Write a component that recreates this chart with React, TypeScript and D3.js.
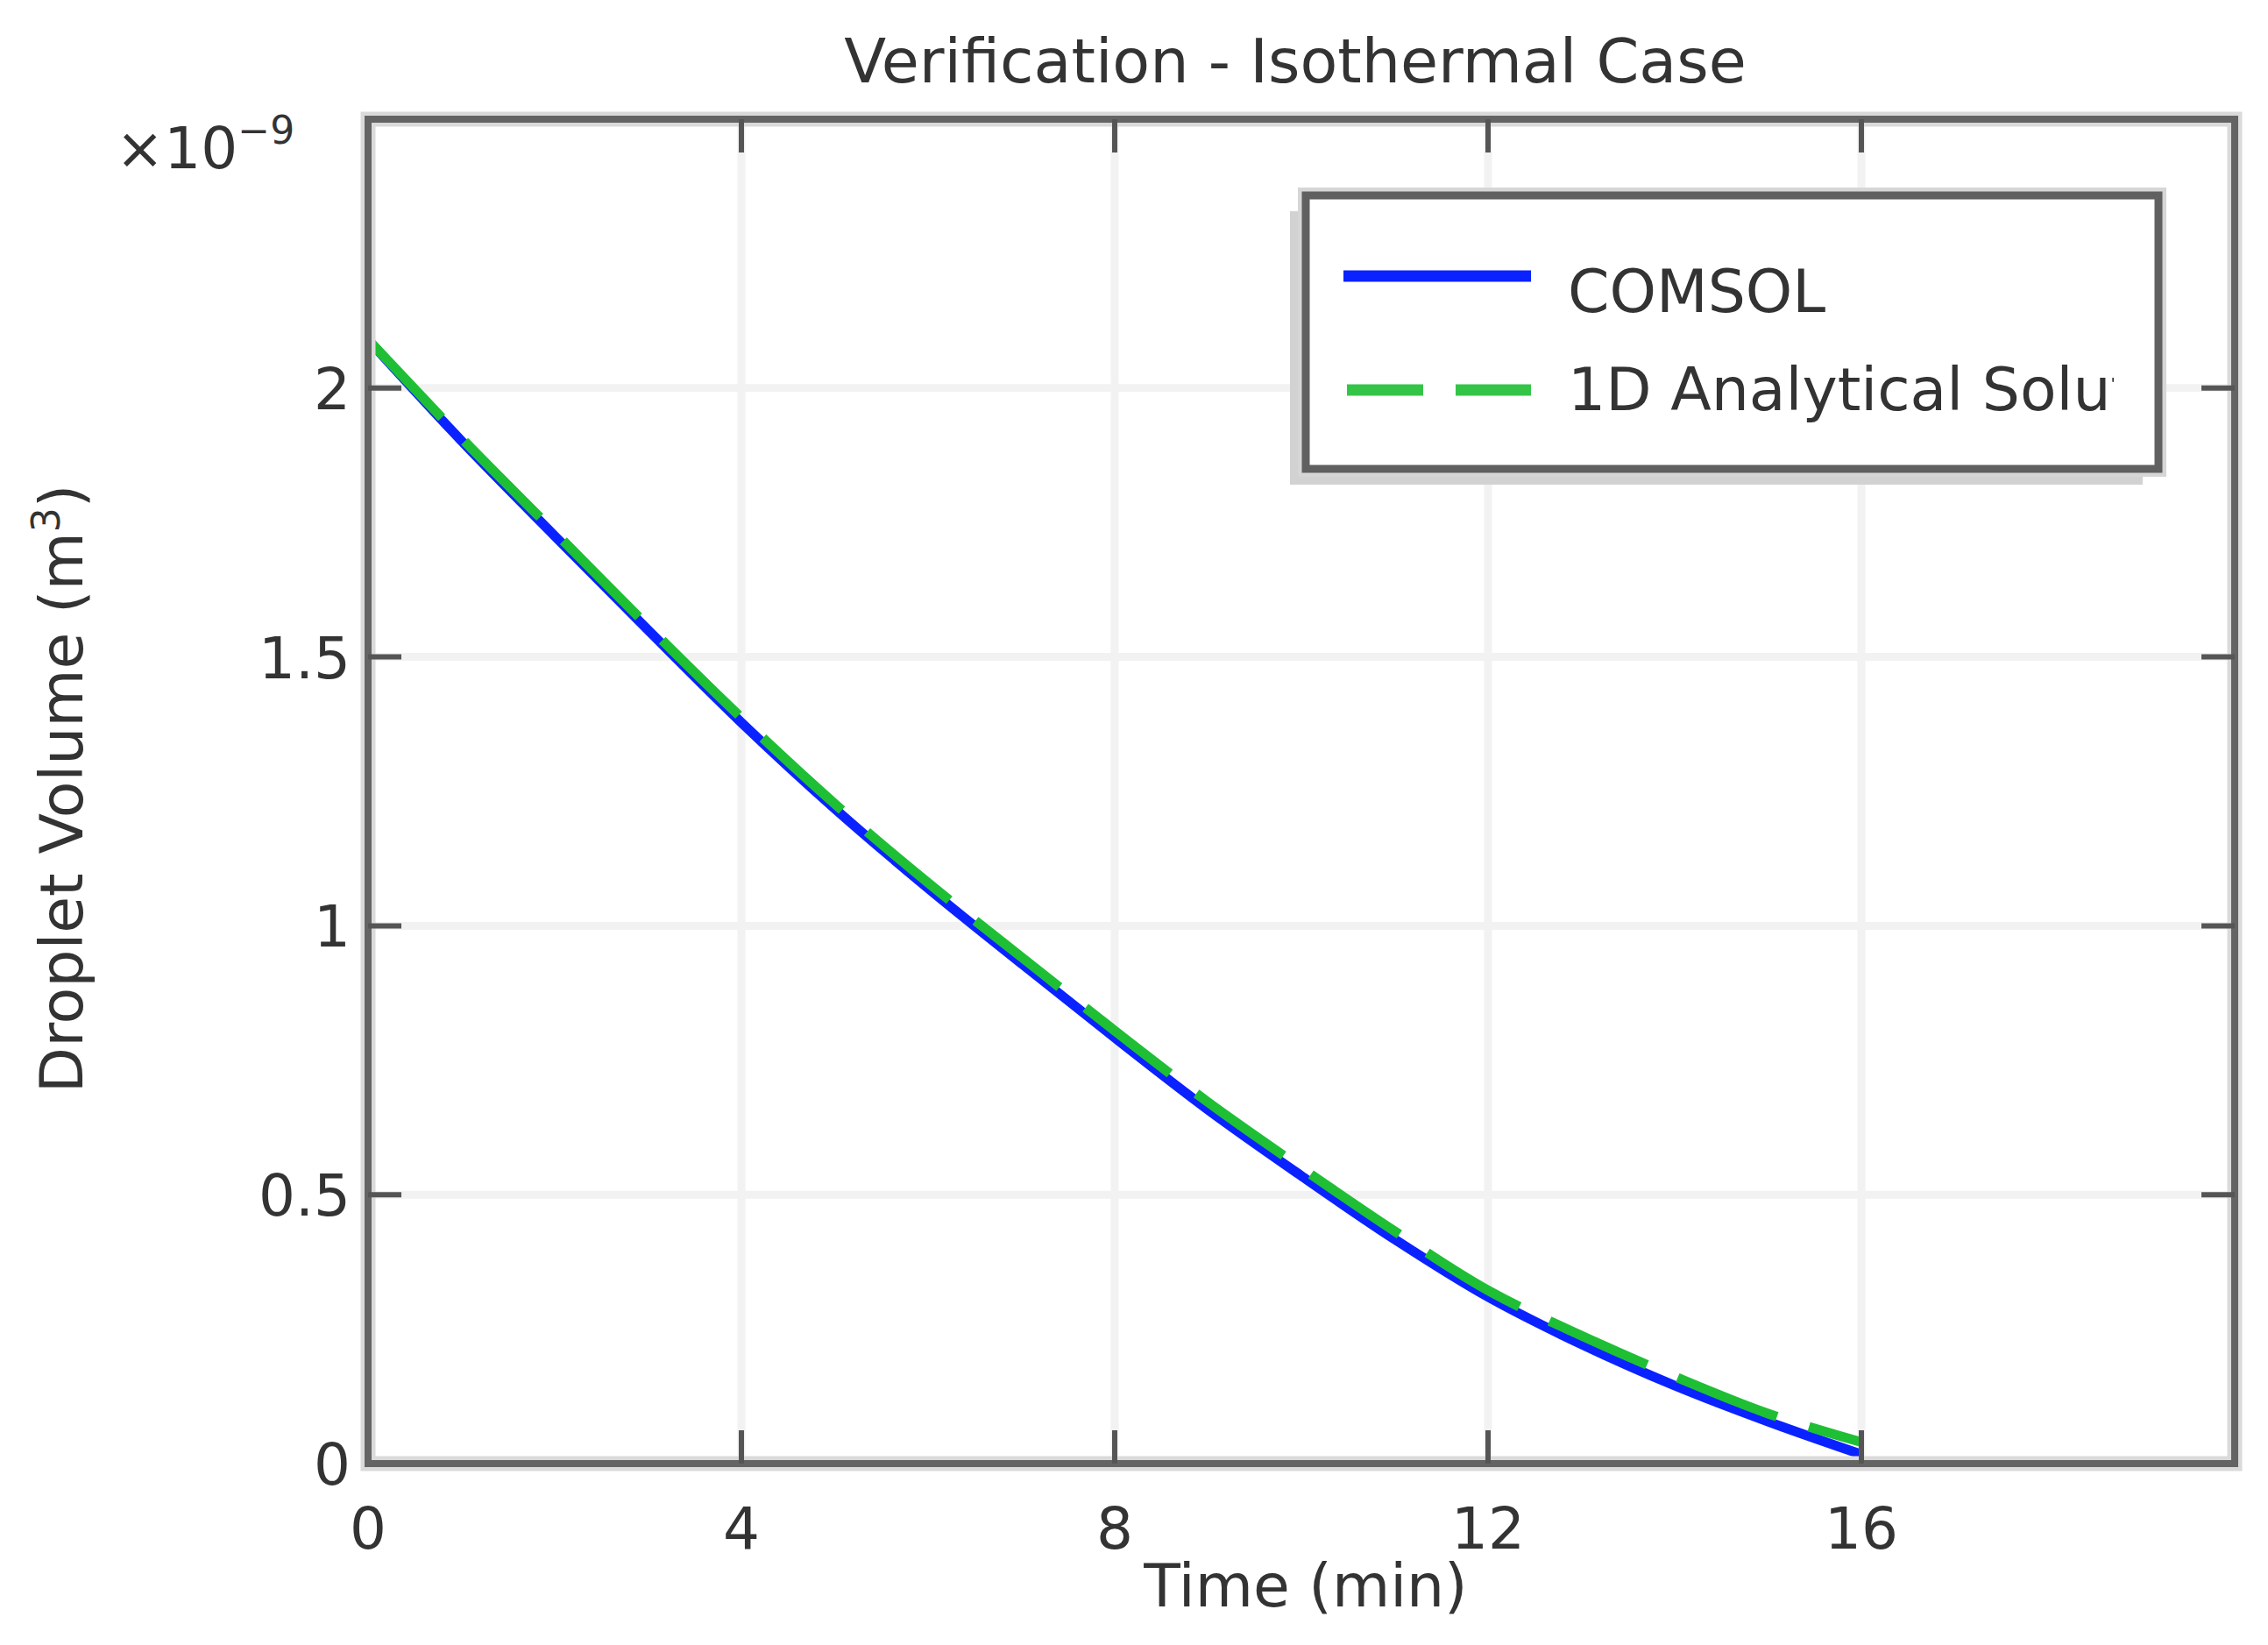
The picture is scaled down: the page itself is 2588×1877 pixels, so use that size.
import React from "react";
import * as d3 from "d3";

// ---- data ----
const timeMin = [0, 1, 2, 3, 4, 5, 6, 7, 8, 9, 10, 11, 12, 13, 14, 15, 16];
const comsolVolume = [2.09, 1.902, 1.725, 1.55, 1.378, 1.218, 1.07, 0.93, 0.792, 0.658, 0.535, 0.417, 0.31, 0.222, 0.145, 0.078, 0.017];
const analyticalVolume = [2.09, 1.907, 1.732, 1.557, 1.387, 1.227, 1.08, 0.942, 0.805, 0.672, 0.55, 0.432, 0.322, 0.238, 0.162, 0.093, 0.04];

const xTickValues = [0, 4, 8, 12, 16];
const yTickValues = [0, 0.5, 1, 1.5, 2];
const yTickLabels = ["0", "0.5", "1", "1.5", "2"];
const xDomain = [0, 20];
const yDomain = [0, 2.5];

const seriesNames = ["COMSOL", "1D Analytical Solution"];
const seriesColors = ["#0a22ff", "#1fbf35"];

const titleText = "Verification - Isothermal Case";
const xLabelText = "Time (min)";
const yLabelText = "Droplet Volume (m";

export default function App() {
  const W = 2588;
  const H = 1877;
  const left = 420, right = 2550, top = 136, bottom = 1670;
  const x = d3.scaleLinear().domain(xDomain).range([left, right]);
  const y = d3.scaleLinear().domain(yDomain).range([bottom, top]);

  const comsolPts = timeMin.map((t, i) => [t, comsolVolume[i]] as [number, number]);
  const anaPts = timeMin.map((t, i) => [t, analyticalVolume[i]] as [number, number]);
  const line = d3
    .line<[number, number]>()
    .x((d) => x(d[0]))
    .y((d) => y(d[1]))
    .curve(d3.curveCatmullRom.alpha(0.5));

  const font = "'DejaVu Sans', sans-serif";
  const textColor = "#333";
  const tickLen = 38;
  const gridX = xTickValues.filter((v) => v > xDomain[0] && v < xDomain[1]);
  const gridY = yTickValues.filter((v) => v > yDomain[0] && v < yDomain[1]);

  // legend geometry
  const lg = { x0: 1490, y0: 223, x1: 2463, y1: 535 };
  const legRows = [315, 445];

  return (
    <svg
      width={W}
      height={H}
      style={{ position: "absolute", left: 0, top: 0, background: "#fff" }}
      xmlns="http://www.w3.org/2000/svg"
    >
      <defs>
        <clipPath id="plotClip">
          <rect x={left} y={top - 10} width={right - left} height={bottom - top + 10} />
        </clipPath>
        <clipPath id="legClip">
          <rect x={lg.x0} y={lg.y0} width={2412 - lg.x0} height={lg.y1 - lg.y0} />
        </clipPath>
      </defs>
      <rect x={0} y={0} width={W} height={H} fill="#fff" />

      {/* grid */}
      <g stroke="#f2f2f2" strokeWidth={9}>
        {gridX.map((v) => (
          <line key={"gx" + v} x1={x(v)} x2={x(v)} y1={top} y2={bottom} />
        ))}
        {gridY.map((v) => (
          <line key={"gy" + v} x1={left} x2={right} y1={y(v)} y2={y(v)} />
        ))}
      </g>

      {/* curves */}
      <g clipPath="url(#plotClip)" fill="none" strokeLinecap="butt">
        <path d={line(comsolPts) || ""} stroke={seriesColors[0]} strokeWidth={11} />
        <path
          d={line(anaPts) || ""}
          stroke={seriesColors[1]}
          strokeWidth={11}
          strokeDasharray="122,38"
        />
      </g>

      {/* frame */}
      <rect x={left} y={top} width={right - left} height={bottom - top} fill="none" stroke="#dadada" strokeWidth={17} />
      <rect x={left} y={top} width={right - left} height={bottom - top} fill="none" stroke="#646464" strokeWidth={8} />

      {/* ticks, inward on all sides */}
      <g stroke="#555" strokeWidth={6}>
        {gridX.map((v) => (
          <g key={"tx" + v}>
            <line x1={x(v)} x2={x(v)} y1={bottom} y2={bottom - tickLen} />
            <line x1={x(v)} x2={x(v)} y1={top} y2={top + tickLen} />
          </g>
        ))}
        {gridY.map((v) => (
          <g key={"ty" + v}>
            <line x1={left} x2={left + tickLen} y1={y(v)} y2={y(v)} />
            <line x1={right} x2={right - tickLen} y1={y(v)} y2={y(v)} />
          </g>
        ))}
      </g>

      {/* tick labels */}
      <g fontFamily={font} fontSize={66} fill={textColor}>
        {xTickValues.map((v) => (
          <text key={"xl" + v} x={x(v)} y={1767} textAnchor="middle">
            {String(v)}
          </text>
        ))}
        {yTickValues.map((v, i) => (
          <text key={"yl" + v} x={400} y={y(v) + 24} textAnchor="end">
            {yTickLabels[i]}
          </text>
        ))}
      </g>

      {/* exponent */}
      <text x={132} y={192} fontFamily={font} fontSize={66} fill={textColor}>
        ×10
        <tspan dy={-28} fontSize={44}>−9</tspan>
      </text>

      {/* title */}
      <text x={1478} y={94} textAnchor="middle" fontFamily={font} fontSize={70} fill={textColor}>
        {titleText}
      </text>

      {/* x label */}
      <text x={1490} y={1833} textAnchor="middle" fontFamily={font} fontSize={68} fill={textColor}>
        {xLabelText}
      </text>

      {/* y label */}
      <text
        transform="translate(94,900) rotate(-90)"
        textAnchor="middle"
        fontFamily={font}
        fontSize={68}
        fill={textColor}
      >
        {yLabelText}
        <tspan dy={-26} fontSize={44}>3</tspan>
        <tspan dy={26}>)</tspan>
      </text>

      {/* legend */}
      <rect x={lg.x0 - 18} y={lg.y0 + 18} width={lg.x1 - lg.x0} height={lg.y1 - lg.y0} fill="#d2d2d2" />
      <rect x={lg.x0} y={lg.y0} width={lg.x1 - lg.x0} height={lg.y1 - lg.y0} fill="#fff" stroke="#d6d6d6" strokeWidth={18} />
      <rect x={lg.x0} y={lg.y0} width={lg.x1 - lg.x0} height={lg.y1 - lg.y0} fill="#fff" stroke="#606060" strokeWidth={9} />
      <line x1={1533} x2={1747} y1={legRows[0]} y2={legRows[0]} stroke={seriesColors[0]} strokeWidth={13} />
      <line
        x1={1537}
        x2={1747}
        y1={legRows[1]}
        y2={legRows[1]}
        stroke={seriesColors[1]}
        strokeWidth={13}
        strokeDasharray="87,37"
        opacity={0.9}
      />
      <g fontFamily={font} fontSize={68} fill={textColor} clipPath="url(#legClip)">
        <text x={1789} y={legRows[0] + 41}>{seriesNames[0]}</text>
        <text x={1789} y={legRows[1] + 23}>{seriesNames[1]}</text>
      </g>
    </svg>
  );
}
